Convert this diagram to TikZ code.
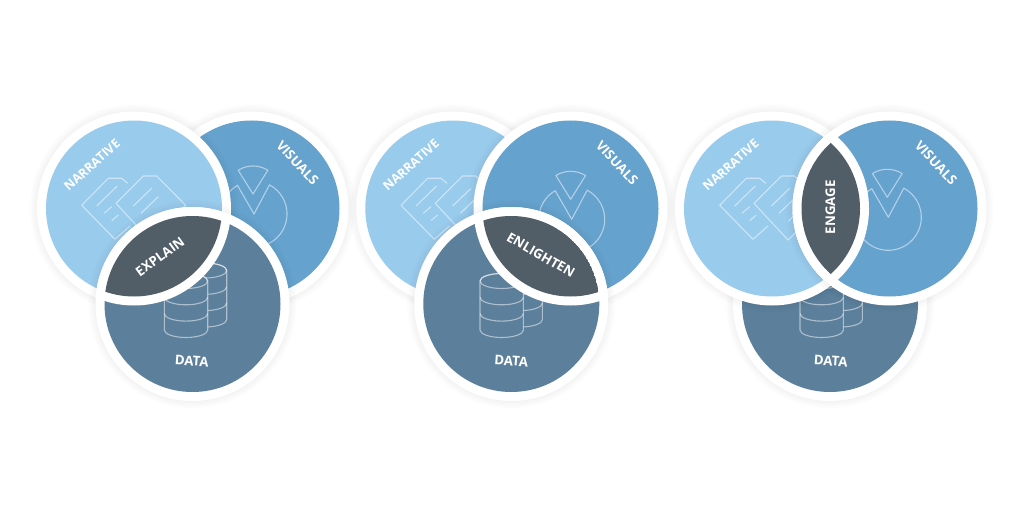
\documentclass[tikz,border=0pt]{standalone}
\usepackage{fontspec}
\setmainfont{Open Sans}
\usepackage{xcolor}
\definecolor{narrativeblue}{HTML}{99CBED}
\definecolor{visualsblue}{HTML}{66A2CE}
\definecolor{datablue}{HTML}{5C7F9B}
\definecolor{lensgrey}{HTML}{515E67}

% one disc with its white ring and faint halo
\newcommand{\disc}[2]{%
  \foreach \rad in {104,102,100,98}
    \fill[halo] (#1) circle [radius=\rad pt];
  \fill[white] (#1) circle [radius=97pt];
  \fill[#2] (#1) circle [radius=88pt];
}
% overlap of two discs
\newcommand{\lens}[2]{%
  \begin{scope}
    \clip (#1) circle [radius=97pt];
    \fill[white] (#2) circle [radius=97pt];
  \end{scope}
  \begin{scope}
    \clip (#1) circle [radius=88pt];
    \clip (#2) circle [radius=88pt];
    \fill[lensgrey] (#1) circle [radius=88pt];
  \end{scope}
}
\newcommand{\docsicon}[1]{%
  \begin{scope}[shift={(#1)},iconline]
    \draw (-6.3,25.2) -- (-12.3,30.2) -- (-25.7,30.2) -- (-52.3,3.2)
          -- (-19,-30.8) -- (-4,-17.5);
    \draw (-37.3,2.5) -- (-16.7,22.5);
    \draw (-30,-4.8) -- (-22.3,1.8);
    \draw (-22.3,-12.2) -- (-15.7,-6.5);
    \draw (-18,5.2) -- (9.3,32.5) -- (22.7,32.5) -- (51.7,3.2)
          -- (16,-31.5) -- cycle;
    \draw (-0.7,2.5) -- (17.7,20.2);
    \draw (7,-4.8) -- (24.3,11.8);
    \draw (16,-13.2) -- (24.3,-4.8);
  \end{scope}
}
\newcommand{\pieicon}[1]{%
  \begin{scope}[shift={(#1)},iconline]
    \draw (0,0) -- ++(120:33pt) arc (120:422:33pt) -- cycle;
    \draw (-1,20) -- ++(122:28pt) arc (122:58:28pt) -- cycle;
  \end{scope}
}
\newcommand{\stackicon}[1]{%
  \begin{scope}[shift={(#1)},iconline]
    \draw[fill=datablue] (-21.7,0) -- (-21.7,-49) arc (180:360:21.7pt and 7.5pt)
          -- (21.7,0) arc (0:180:21.7pt and 7.5pt) -- cycle;
    \draw (-21.7,-16.3) arc (180:360:21.7pt and 7.5pt);
    \draw (-21.7,-32.6) arc (180:360:21.7pt and 7.5pt);
    \draw (0,0) ellipse [x radius=21.7pt, y radius=7.5pt];
  \end{scope}
}

\begin{document}
\begin{tikzpicture}[%
    x=1pt,
    y=1pt,
    halo/.style={black,opacity=0.012},
    iconline/.style={draw=white,draw opacity=0.5,line width=1.1pt,line join=round},
    word/.style={text=white,font=\fontsize{13.3}{14}\selectfont\bfseries,inner sep=0pt},
    longword/.style={word,font=\fontsize{12.6}{13}\selectfont\bfseries}
  ]
    \fill[white] (0,0) rectangle (1024,512);
    \useasboundingbox (0,0) rectangle (1024,512);

    \coordinate (n1) at (134,303.5);
    \coordinate (v1) at (251.5,303.5);
    \coordinate (d1) at (192.5,208);
    \coordinate (n2) at (453.3,303.5);
    \coordinate (v2) at (570.5,303.5);
    \coordinate (d2) at (511.3,208);
    \coordinate (n3) at (772,303.5);
    \coordinate (v3) at (889.5,303.5);
    \coordinate (d3) at (830,208);

    % explain
    \disc{v1}{visualsblue}
    \pieicon{254,298}
    \disc{n1}{narrativeblue}
    \docsicon{n1}
    \disc{d1}{datablue}
    \stackicon{205,241.5}
    \stackicon{186,231}
    \lens{d1}{n1}

    % enlighten
    \disc{n2}{narrativeblue}
    \docsicon{n2}
    \disc{v2}{visualsblue}
    \pieicon{571.7,292.7}
    \disc{d2}{datablue}
    \stackicon{520.7,241.5}
    \stackicon{501.7,231}
    \lens{d2}{v2}

    % engage
    \disc{d3}{datablue}
    \stackicon{840.7,241.5}
    \stackicon{821.7,231}
    \disc{n3}{narrativeblue}
    \docsicon{n3}
    \disc{v3}{visualsblue}
    \pieicon{888.3,294.7}
    \lens{v3}{n3}

    \node[longword,rotate=42] (narrative1) at (92,347)     {NARRATIVE};
    \node[word,rotate=-47]    (visuals1)   at (297.5,349)  {VISUALS};
    \node[word,rotate=-4]     (data1)      at (191.7,151)  {DATA};
    \node[word,rotate=36]     (explain)    at (160,255.3)  {EXPLAIN};

    \node[longword,rotate=42] (narrative2) at (411,347)    {NARRATIVE};
    \node[word,rotate=-47]    (visuals2)   at (617,349)    {VISUALS};
    \node[word,rotate=-4]     (data2)      at (511.3,151)  {DATA};
    \node[word,rotate=-30]    (enlighten)  at (541,257)    {ENLIGHTEN};

    \node[longword,rotate=42] (narrative3) at (730.7,347)  {NARRATIVE};
    \node[word,rotate=-47]    (visuals3)   at (936,349)    {VISUALS};
    \node[word,rotate=-4]     (data3)      at (830.7,151)  {DATA};
    \node[word,rotate=90]     (engage)     at (830.3,304.7) {ENGAGE};
  \end{tikzpicture}
\end{document}
